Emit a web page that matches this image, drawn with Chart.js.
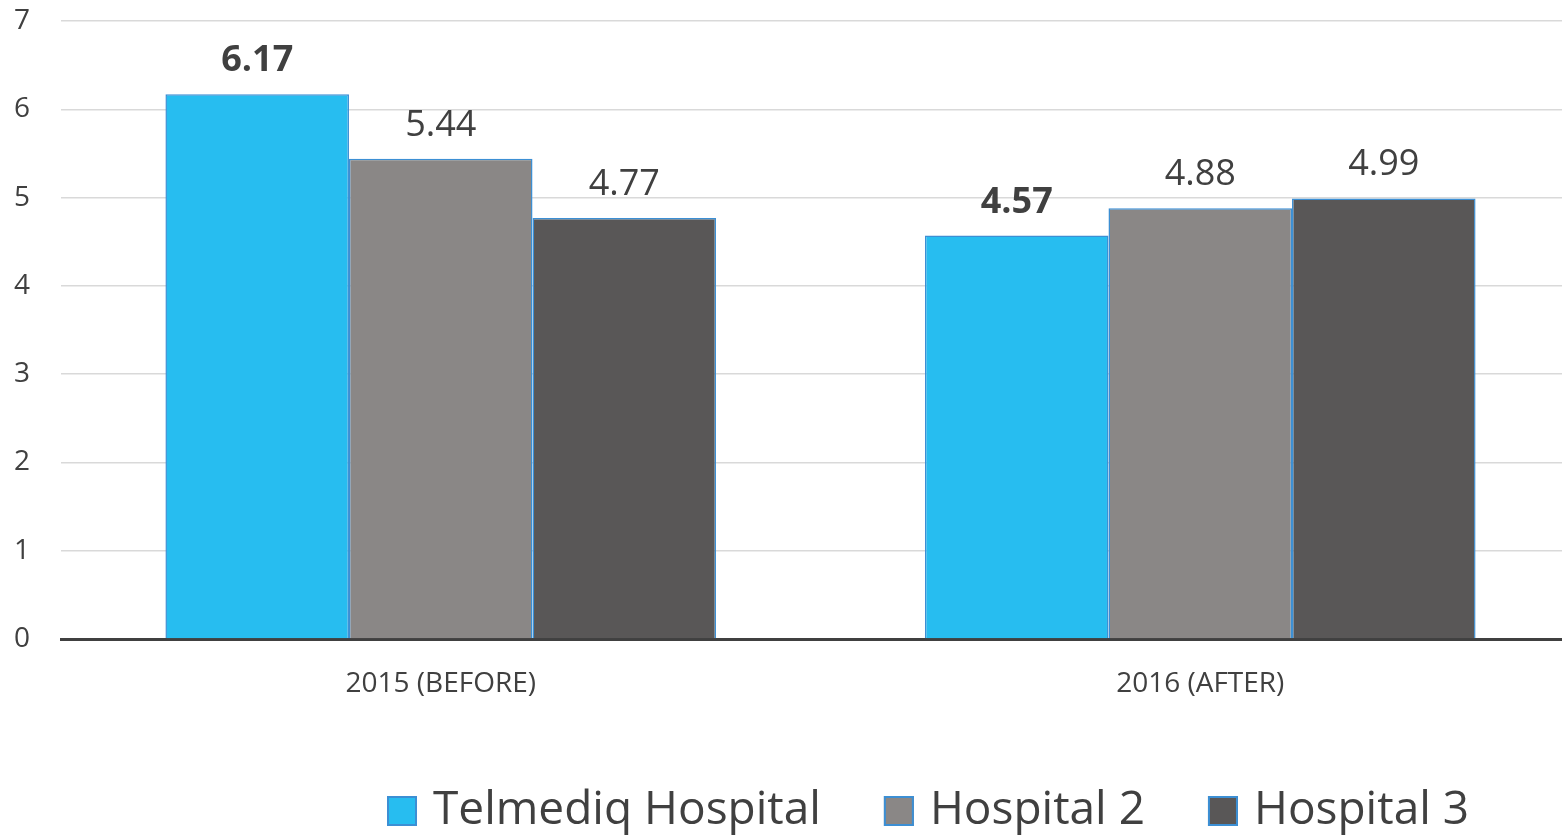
<!DOCTYPE html>
<html><head><meta charset="utf-8">
<script src="https://cdn.jsdelivr.net/npm/chart.js@4/dist/chart.umd.min.js"></script>
<style>
html,body{margin:0;padding:0;background:#fff;overflow:hidden;}
#wrap{position:absolute;left:0;top:0;width:1580px;height:836px;}
</style></head><body>
<div id="wrap"><canvas id="c" width="1580" height="836"></canvas></div>
<script>
const categories = ["2015 (BEFORE)", "2016 (AFTER)"];
const seriesNames = ["Telmediq Hospital", "Hospital 2", "Hospital 3"];
const telmediq = [6.17, 4.57];
const hospital2 = [5.44, 4.88];
const hospital3 = [4.77, 4.99];
const yTicks = [0, 1, 2, 3, 4, 5, 6, 7];

const colors = ["#27BDF0", "#8A8786", "#595757"];
const borderColor = "#3C8FD4";
const textColor = "#404040";
const FONT = "'Open Sans', sans-serif";

const labelPlugin = {
  id: 'valueLabels',
  afterDatasetsDraw(chart) {
    const ctx = chart.ctx;
    ctx.save();
    ctx.fillStyle = textColor;
    ctx.textAlign = 'center';
    ctx.textBaseline = 'alphabetic';
    chart.data.datasets.forEach((ds, i) => {
      const meta = chart.getDatasetMeta(i);
      ctx.font = (i === 0 ? 'bold ' : '') + '36px ' + FONT;
      meta.data.forEach((bar, j) => {
        ctx.fillText(ds.data[j].toFixed(2), bar.x, bar.y - 23);
      });
    });
    ctx.restore();
  }
};

const legendPlugin = {
  id: 'customLegend',
  afterDraw(chart) {
    const ctx = chart.ctx;
    ctx.save();
    ctx.font = '46px ' + FONT;
    ctx.textBaseline = 'middle';
    let x = 387;
    const cy = 811;
    chart.data.datasets.forEach((ds, i) => {
      ctx.fillStyle = ds.backgroundColor;
      ctx.fillRect(x, cy - 15, 30, 30);
      ctx.strokeStyle = borderColor;
      ctx.lineWidth = 2;
      ctx.strokeRect(x + 1, cy - 14, 28, 28);
      x += 46;
      ctx.fillStyle = textColor;
      ctx.fillText(ds.label, x, cy);
      x += ctx.measureText(ds.label).width + 63;
    });
    ctx.restore();
  }
};

const seriesData = [telmediq, hospital2, hospital3];

new Chart(document.getElementById('c'), {
  type: 'bar',
  data: {
    labels: categories,
    datasets: seriesNames.map((name, i) => ({
      label: name,
      data: seriesData[i],
      backgroundColor: colors[i],
      borderColor: borderColor,
      borderWidth: 1.5,
      borderSkipped: 'bottom',
      barPercentage: 1,
      categoryPercentage: 0.725
    }))
  },
  options: {
    responsive: false,
    animation: false,
    layout: { padding: { top: 21, right: 0, left: 14, bottom: 0 } },
    plugins: { legend: { display: false }, tooltip: { enabled: false } },
    scales: {
      x: {
        grid: { display: false, drawTicks: false },
        border: { display: true, color: '#404040', width: 3 },
        ticks: { color: textColor, font: { family: FONT, size: 28 }, padding: 28 },
        afterFit(scale) { scale.height = 197; }
      },
      y: {
        min: 0, max: 7,
        afterBuildTicks(scale) { scale.ticks = yTicks.map(v => ({ value: v })); },
        grid: { color: '#D9D9D9', lineWidth: 1.5, drawTicks: false },
        border: { display: false },
        ticks: { color: textColor, font: { family: FONT, size: 28 }, padding: 0, crossAlign: 'far' },
        afterFit(scale) { scale.width = 47; }
      }
    }
  },
  plugins: [labelPlugin, legendPlugin]
});
</script>
</body></html>
